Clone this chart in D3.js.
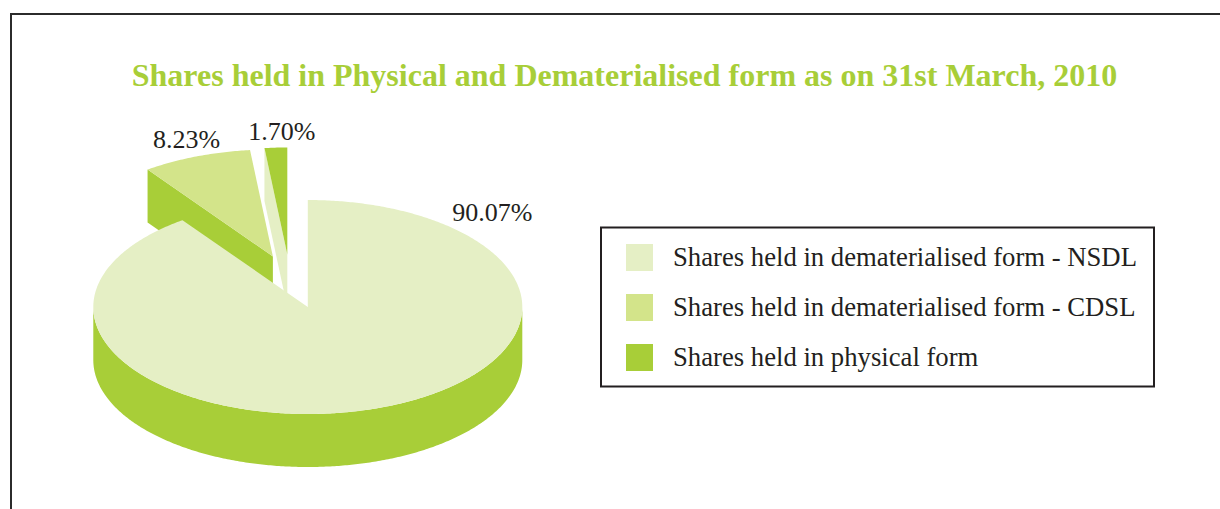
<!DOCTYPE html>
<html>
<head>
<meta charset="utf-8">
<script src="https://cdn.jsdelivr.net/npm/d3@7"></script>
<style>
  html, body { margin: 0; padding: 0; background: #fff; }
  svg { display: block; }
</style>
</head>
<body>
<svg id="chart" width="1220" height="509"></svg>
<script>
// ---- data ----
const title = "Shares held in Physical and Dematerialised form as on 31st March, 2010";
const categories = [
  "Shares held in dematerialised form - NSDL",
  "Shares held in dematerialised form - CDSL",
  "Shares held in physical form"
];
const values = [90.07, 8.23, 1.70];
const valueLabels = ["90.07%", "8.23%", "1.70%"];

// ---- style ----
const topColors = ["#E5EFC5", "#D3E48A", "#A8CE38"];
const faceColors = ["#A8CE38", "#A8CE38", "#E5EFC5"];
const sideColor = "#A8CE38";
const explode = [{dist: 0, dir: 0}, {dist: 0.5, dir: 341}, {dist: 0.5, dir: 349}];
const labelPos = [{r: 1.237, a: 44.1}, {r: 1.669, a: 340.2}, {r: 1.649, a: 355.8}];
const textColor = "#231F20";
const serif = "'Liberation Serif', 'Times New Roman', serif";

const svg = d3.select("#chart");
const W = 1220, H = 509;

// frame
svg.append("rect").attr("x", 11).attr("y", 14).attr("width", W + 20).attr("height", H + 20)
  .attr("fill", "none").attr("stroke", "#2b2b2b").attr("stroke-width", 2);

// title
svg.append("text").attr("x", 624.5).attr("y", 86).attr("text-anchor", "middle")
  .attr("font-family", serif).attr("font-weight", "bold").attr("font-size", 32)
  .attr("fill", "#A8CE38").text(title);

// pie geometry
const cx = 307.8, cy = 307, rx = 214.5, ry = 107, depth = 53;
const pie = d3.pie().sort(null).value(d => d)(values);

function pt(c, a, r = 1) {
  return [c[0] + rx * r * Math.sin(a), c[1] - ry * r * Math.cos(a)];
}
function arcPts(c, a0, a1, dy = 0) {
  const n = Math.max(2, Math.ceil(Math.abs(a1 - a0) / 0.01));
  return d3.range(n + 1).map(i => {
    const a = a0 + (a1 - a0) * i / n;
    const p = pt(c, a);
    return [p[0], p[1] + dy];
  });
}
const line = d3.line();

const slices = pie.map((s, i) => {
  const e = explode[i];
  const dir = e.dir * Math.PI / 180;
  const c = [cx + rx * e.dist * Math.sin(dir), cy - ry * e.dist * Math.cos(dir)];
  return {s, i, c};
});

const g = svg.append("g");

function drawSlice(sl) {
  const {s, i, c} = sl;
  const a0 = s.startAngle, a1 = s.endAngle;
  // outer side (front half only)
  const f0 = Math.max(a0, Math.PI / 2), f1 = Math.min(a1, 3 * Math.PI / 2);
  if (f1 > f0) {
    const topA = arcPts(c, f0, f1);
    const botA = arcPts(c, f1, f0, depth);
    g.append("path").attr("d", line(topA.concat(botA)) + "Z").attr("fill", sideColor);
  }
  // radial faces facing the viewer
  [[a0, a0 - Math.PI / 2], [a1, a1 + Math.PI / 2]].forEach(([a, nrm]) => {
    if (Math.cos(nrm) < -1e-6) {
      const p = pt(c, a);
      const poly = [p, c, [c[0], c[1] + depth], [p[0], p[1] + depth]];
      g.append("path").attr("d", line(poly) + "Z").attr("fill", faceColors[i]);
    }
  });
  // top
  const topPoly = [c].concat(arcPts(c, a0, a1));
  g.append("path").attr("d", line(topPoly) + "Z").attr("fill", topColors[i]);
}

// back (exploded) slices first, then main slice
[2, 1, 0].forEach(k => drawSlice(slices[k]));

// value labels
valueLabels.forEach((lab, i) => {
  const a = labelPos[i].a * Math.PI / 180;
  const p = pt([cx, cy], a, labelPos[i].r);
  svg.append("text").attr("x", p[0]).attr("y", p[1]).attr("dy", "0.34em")
    .attr("text-anchor", "middle").attr("font-family", serif).attr("font-size", 26)
    .attr("fill", textColor).text(lab);
});

// legend
const leg = svg.append("g");
leg.append("rect").attr("x", 601).attr("y", 227.5).attr("width", 553).attr("height", 159)
  .attr("fill", "#fff").attr("stroke", "#231F20").attr("stroke-width", 2);
categories.forEach((cat, i) => {
  const y0 = 244 + i * 50;
  leg.append("rect").attr("x", 626).attr("y", y0).attr("width", 27).attr("height", 27)
    .attr("fill", topColors[i]);
  leg.append("text").attr("x", 673).attr("y", y0 + 22).attr("font-family", serif)
    .attr("font-size", 26.7).attr("fill", textColor).text(cat);
});
</script>
</body>
</html>
